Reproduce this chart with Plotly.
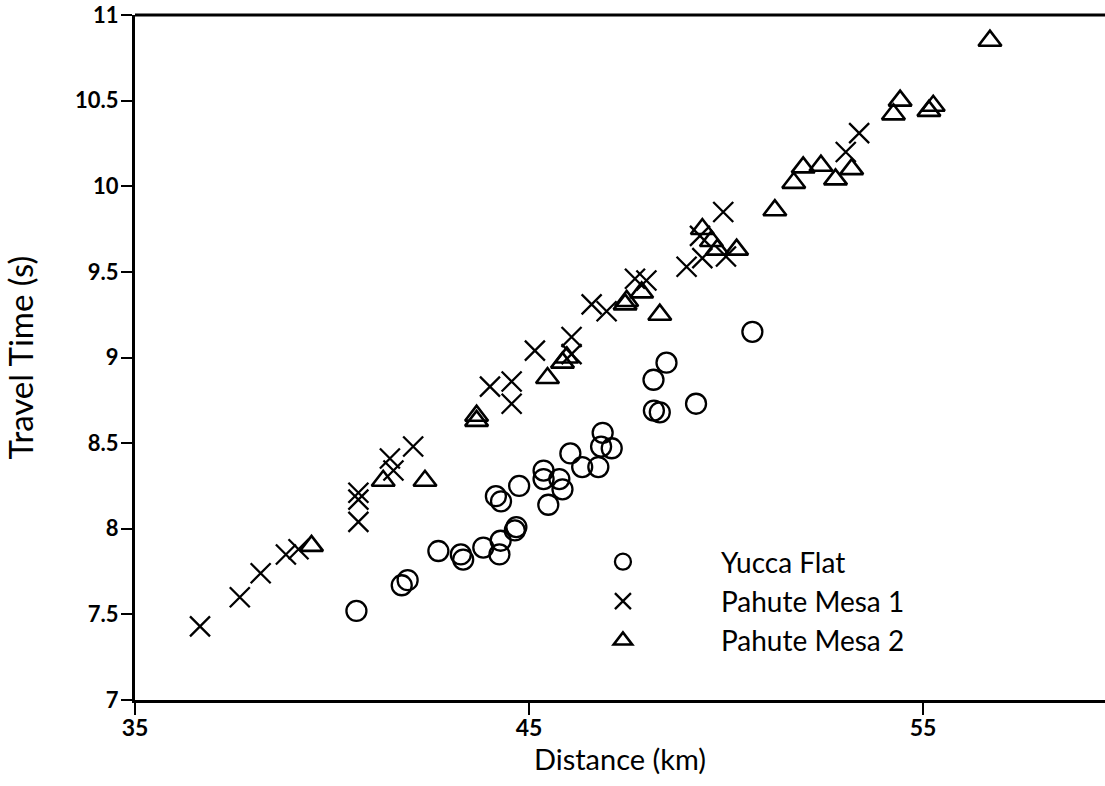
import plotly.graph_objects as go

# Yucca Flat (circles)
yucca_x = [40.62, 41.77, 41.92, 42.70, 43.27, 43.33, 43.84, 44.25, 44.28, 44.64, 44.68,
           44.16, 44.29, 44.75, 45.37, 45.37, 45.77, 45.85, 45.49, 46.05, 46.35, 46.76,
           46.87, 46.83, 47.10, 48.16, 48.49, 48.17, 48.32, 49.24, 50.67]
yucca_y = [7.52, 7.67, 7.70, 7.87, 7.85, 7.82, 7.89, 7.85, 7.93, 7.99, 8.01,
           8.19, 8.16, 8.25, 8.34, 8.29, 8.29, 8.23, 8.14, 8.44, 8.36, 8.36,
           8.56, 8.48, 8.47, 8.87, 8.97, 8.69, 8.68, 8.73, 9.15]

# Pahute Mesa 1 (crosses)
pm1_x = [36.65, 37.66, 38.19, 38.83, 39.15, 40.67, 40.67, 40.67, 41.47, 41.56, 42.06,
         44.01, 44.56, 44.56, 45.15, 46.08, 46.08, 46.59, 46.97, 47.69, 47.98, 49.00,
         49.40, 49.34, 49.93, 50.00, 53.04, 53.38]
pm1_y = [7.43, 7.60, 7.74, 7.85, 7.88, 8.21, 8.17, 8.04, 8.41, 8.34, 8.48,
         8.83, 8.86, 8.73, 9.04, 9.12, 9.02, 9.31, 9.27, 9.46, 9.45, 9.53,
         9.58, 9.71, 9.85, 9.59, 10.20, 10.31]

# Pahute Mesa 2 (triangles)
pm2_x = [39.48, 41.30, 42.36, 43.67, 43.67, 45.47, 45.85, 45.96, 47.44, 47.48, 47.86,
         48.32, 49.40, 49.63, 49.78, 50.27, 51.24, 51.72, 51.96, 52.41, 52.78, 53.19,
         54.25, 54.42, 55.15, 55.26, 56.70]
pm2_y = [7.90, 8.28, 8.28, 8.63, 8.66, 8.88, 8.97, 9.00, 9.31, 9.33, 9.38,
         9.25, 9.75, 9.68, 9.63, 9.63, 9.86, 10.02, 10.11, 10.12, 10.04, 10.10,
         10.42, 10.50, 10.44, 10.47, 10.85]

x_ticks = [35, 45, 55]
y_ticks = [7, 7.5, 8, 8.5, 9, 9.5, 10, 10.5, 11]
y_tick_text = ["7", "7.5", "8", "8.5", "9", "9.5", "10", "10.5", "11"]

FONT = "Lato"

fig = go.Figure()
fig.add_trace(go.Scatter(
    x=yucca_x, y=yucca_y, mode="markers", name="Yucca Flat",
    marker=dict(symbol="circle-open", size=20, color="black", line=dict(width=2.3, color="black")),
))
fig.add_trace(go.Scatter(
    x=pm1_x, y=pm1_y, mode="markers", name="Pahute Mesa 1",
    marker=dict(symbol="x-thin-open", size=20, color="black", line=dict(width=2.3, color="black")),
))
fig.add_trace(go.Scatter(
    x=pm2_x, y=pm2_y, mode="markers", name="Pahute Mesa 2",
    marker=dict(symbol="triangle-up-open", size=20, color="black", line=dict(width=2.6, color="black")),
))

fig.update_layout(
    width=1105, height=786,
    margin=dict(l=135, r=0, t=15, b=86, autoexpand=False),
    paper_bgcolor="white", plot_bgcolor="white",
    font=dict(family=FONT, color="black"),
    showlegend=True,
    legend=dict(
        x=0.402, y=0.238, xanchor="left", yanchor="top",
        font=dict(family=FONT, size=28, color="black"),
        itemwidth=186, bgcolor="rgba(0,0,0,0)", tracegroupgap=0,
    ),
    xaxis=dict(
        range=[35, 59.62], tickvals=x_ticks, ticktext=[str(v) for v in x_ticks],
        automargin=False,
        showgrid=False, zeroline=False, showline=True, linecolor="black", linewidth=3,
        ticks="outside", ticklen=12, tickwidth=1.5, tickcolor="black",
        ticklabelstandoff=-7,
        tickfont=dict(family=FONT, size=23, color="black", weight="bold"),
        ticklabeloverflow="allow",
        title=dict(text="Distance (km)", font=dict(family=FONT, size=29, color="black"), standoff=0),
    ),
    yaxis=dict(
        range=[7, 11], tickvals=y_ticks, ticktext=y_tick_text,
        automargin=False,
        showgrid=False, zeroline=False, showline=True, linecolor="black", linewidth=3,
        ticks="outside", ticklen=11, tickwidth=1.5, tickcolor="black",
        ticklabelstandoff=-2,
        tickfont=dict(family=FONT, size=22, color="black", weight="bold"),
        ticklabeloverflow="allow",
        title=dict(text="Travel Time (s)", font=dict(family=FONT, size=33, color="black"), standoff=36),
    ),
    shapes=[dict(type="line", xref="paper", yref="paper", x0=0, x1=1, y0=1, y1=1,
                 line=dict(color="black", width=3))],
)

fig.write_html("out.html", config={"displayModeBar": False},
               post_script="document.body.style.margin='0';")
